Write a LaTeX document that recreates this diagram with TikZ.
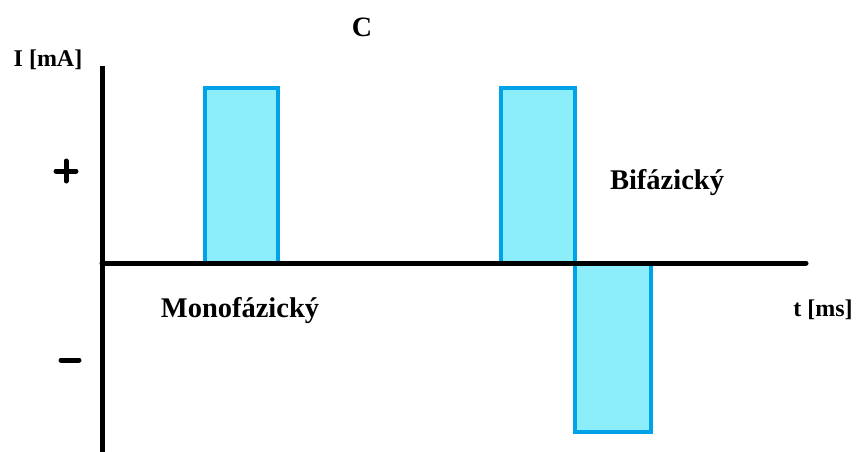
\documentclass[tikz,border=0pt]{standalone}
\usepackage{fontspec}
\setmainfont{Liberation Serif}
\definecolor{pulseedge}{RGB}{0,162,232}
\definecolor{pulsefill}{RGB}{140,238,250}
\begin{document}
\begin{tikzpicture}[x=1pt,y=-1pt,
  pulse/.style={draw=pulseedge,fill=pulsefill,line width=4pt},
  axisline/.style={draw=black,line width=5pt,line cap=round},
  signline/.style={draw=black,line width=5pt,line cap=round},
  lbl/.style={inner sep=0pt,font=\bfseries\fontsize{28.5}{30}\selectfont},
  axlbl/.style={inner sep=0pt,font=\bfseries\fontsize{24}{26}\selectfont}]
\useasboundingbox (0,0) rectangle (856,452);

% axis end points
\coordinate (ytop) at (102,66);
\coordinate (ybot) at (102,456);
\coordinate (xleft) at (102,263);
\coordinate (xright) at (806,263);

% pulses
\draw[pulse] (205,88) rectangle (278,263);
\draw[pulse] (501,88) rectangle (575,263);
\draw[pulse] (575,263) rectangle (651,432);

% axes
\draw[axisline,line cap=butt] (ytop) -- (ybot);
\draw[axisline] (xleft) -- (xright);

% polarity marks
\coordinate (plusc) at (66,171);
\draw[signline] ([xshift=-10pt]plusc) -- ([xshift=10pt]plusc);
\draw[signline] ([yshift=-10pt]plusc) -- ([yshift=10pt]plusc);
\coordinate (minusc) at (70,360);
\draw[signline] ([xshift=-9pt]minusc) -- ([xshift=9pt]minusc);

% labels
\node[inner sep=0pt,font=\bfseries\fontsize{28}{30}\selectfont] (title) at (362,27) {C};
\node[axlbl] (ylab) at (48,60) {I [mA]};
\node[axlbl] (xlab) at (823,310) {t [ms]};
\node[lbl] (mono) at (240,311) {Monofázický};
\node[lbl] (bi) at (667,183) {Bifázický};
\end{tikzpicture}
\end{document}
